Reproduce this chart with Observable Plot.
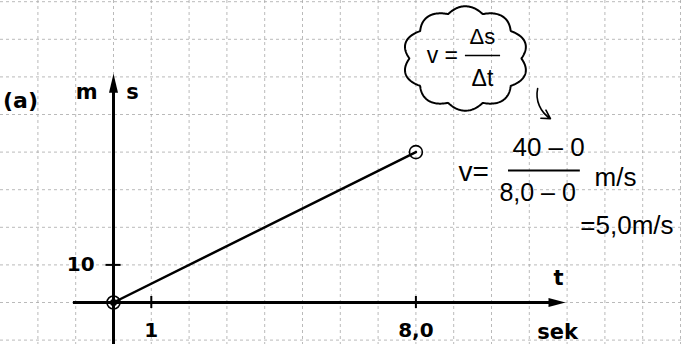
<!DOCTYPE html>
<html>
<head>
<meta charset="utf-8">
<script src="https://cdn.jsdelivr.net/npm/d3@7"></script>
<script src="https://cdn.jsdelivr.net/npm/@observablehq/plot@0.6"></script>
<style>
  html, body { margin: 0; padding: 0; background: white; }
  #chart svg { display: block; }
</style>
</head>
<body>
<div id="chart"></div>
<script>
// ---- data ----
const time = [0, 8.0];          // t (sek)
const position = [0, 40];       // s (m)
const xTicks = [1, 8.0];
const xTickLabels = ["1", "8,0"];
const yTicks = [10];
const yTickLabels = ["10"];

const series = time.map((t, i) => ({t, s: position[i]}));

// ---- helpers ----
const hand = "'Liberation Sans', Arimo, sans-serif";
const label = "'DejaVu Sans', sans-serif";

const triUp = {draw(ctx, size) {
  const r = Math.sqrt(size / Math.PI);
  ctx.moveTo(0, -2 * r); ctx.lineTo(0.9 * r, 1.8 * r); ctx.lineTo(-0.9 * r, 1.8 * r); ctx.closePath();
}};
const triRight = {draw(ctx, size) {
  const r = Math.sqrt(size / Math.PI);
  ctx.moveTo(1.8 * r, 0); ctx.lineTo(-1.6 * r, 0.9 * r); ctx.lineTo(-1.6 * r, -0.9 * r); ctx.closePath();
}};

function cloudOutline(cx, cy, rx, ry, bumps, amp, n) {
  const pts = [];
  for (let i = 0; i <= n; i++) {
    const a = 2 * Math.PI * i / n + 0.2;
    const k = 1 + amp * Math.abs(Math.sin(bumps * a / 2));
    pts.push({x: cx + rx * k * Math.cos(a), y: cy + ry * k * Math.sin(a)});
  }
  return pts;
}
const cloud = cloudOutline(9.31, 64.9, 1.48, 12.4, 10, 0.12, 400);

const chart = Plot.plot({
  width: 683,
  height: 344,
  margin: 0,
  x: {domain: [-113 / 37.8, 570 / 37.8], axis: null},
  y: {domain: [-42 / 3.76, 302 / 3.76], axis: null},
  style: {background: "white", overflow: "visible"},
  marks: [
    // dotted grid paper
    Plot.ruleX(d3.range(-2, 16), {stroke: "#a8a8a8", strokeWidth: 0.8, strokeDasharray: "3,3"}),
    Plot.ruleY(d3.range(-10, 90, 10), {stroke: "#a8a8a8", strokeWidth: 0.8, strokeDasharray: "3,3"}),

    // axes
    Plot.ruleX([0], {y1: -12, y2: 58, stroke: "black", strokeWidth: 3}),
    Plot.ruleY([0], {x1: -1.06, x2: 11.7, stroke: "black", strokeWidth: 3}),
    Plot.dot([{x: 0, y: 58.2}], {x: "x", y: "y", symbol: triUp, r: 5, fill: "black", stroke: "none"}),
    Plot.dot([{x: 11.72, y: 0}], {x: "x", y: "y", symbol: triRight, r: 5, fill: "black", stroke: "none"}),

    // ticks
    Plot.ruleX(xTicks, {y1: -1.6, y2: 1.6, stroke: "black", strokeWidth: 2}),
    Plot.ruleY(yTicks, {x1: -0.2, x2: 0.2, stroke: "black", strokeWidth: 2}),
    Plot.text(xTicks, {x: d => d, y: -7.6, text: (d, i) => xTickLabels[i], fontSize: 20, fontWeight: "bold", fontFamily: label, fill: "black"}),
    Plot.text(yTicks, {x: -0.5, y: d => d, text: (d, i) => yTickLabels[i], textAnchor: "end", fontSize: 20, fontWeight: "bold", fontFamily: label, fill: "black"}),

    // axis labels
    Plot.text(["m"], {x: -0.71, y: 55.85, text: d => d, fontSize: 21, fontWeight: "bold", fontFamily: label, fill: "black"}),
    Plot.text(["s"], {x: 0.5, y: 55.85, text: d => d, fontSize: 21, fontWeight: "bold", fontFamily: label, fill: "black"}),
    Plot.text(["(a)"], {x: -2.46, y: 53.5, text: d => d, fontSize: 22, fontWeight: "bold", fontFamily: label, fill: "black"}),
    Plot.text(["t"], {x: 11.77, y: 6.4, text: d => d, fontSize: 21, fontWeight: "bold", fontFamily: label, fill: "black"}),
    Plot.text(["sek"], {x: 11.75, y: -8, text: d => d, fontSize: 21, fontWeight: "bold", fontFamily: label, fill: "black"}),

    // data
    Plot.line(series, {x: "t", y: "s", stroke: "black", strokeWidth: 2.5}),
    Plot.dot(series, {x: "t", y: "s", r: 6.5, stroke: "black", strokeWidth: 1.6, fill: "white", fillOpacity: 0}),
    Plot.dot(series.filter(d => d.t === 0), {x: "t", y: "s", r: 3.5, fill: "black"}),

    // cloud with formula
    Plot.line(cloud, {x: "x", y: "y", stroke: "black", strokeWidth: 2, curve: "linear"}),
    Plot.text(["v ="], {x: 8.7, y: 65.7, text: d => d, fontSize: 23, fontFamily: hand, fill: "black"}),
    Plot.ruleY([65.7], {x1: 9.31, x2: 10.24, stroke: "black", strokeWidth: 1.6}),
    Plot.text(["Δs"], {x: 9.76, y: 70.6, text: d => d, fontSize: 22, fontFamily: hand, fill: "black"}),
    Plot.text(["Δt"], {x: 9.76, y: 59.6, text: d => d, fontSize: 23, fontFamily: hand, fill: "black"}),
    Plot.arrow([{x1: 11.22, y1: 56.9, x2: 11.56, y2: 48.9}], {x1: "x1", y1: "y1", x2: "x2", y2: "y2", bend: -35, stroke: "black", strokeWidth: 1.6, headLength: 9}),

    // worked formula
    Plot.text(["v="], {x: 9.53, y: 34.6, text: d => d, fontSize: 28, fontFamily: hand, fill: "black"}),
    Plot.text(["40 – 0"], {x: 11.51, y: 41.2, text: d => d, fontSize: 26, fontFamily: hand, fill: "black"}),
    Plot.ruleY([35.1], {x1: 10.45, x2: 12.35, stroke: "black", strokeWidth: 1.8}),
    Plot.text(["8,0 – 0"], {x: 11.22, y: 29, text: d => d, fontSize: 25, fontFamily: hand, fill: "black"}),
    Plot.text(["m/s"], {x: 13.28, y: 33.2, text: d => d, fontSize: 26, fontFamily: hand, fill: "black"}),
    Plot.text(["=5,0m/s"], {x: 12.35, y: 20.5, text: d => d, textAnchor: "start", fontSize: 26, fontFamily: hand, fill: "black"})
  ]
});
document.getElementById("chart").append(chart);
</script>
</body>
</html>
